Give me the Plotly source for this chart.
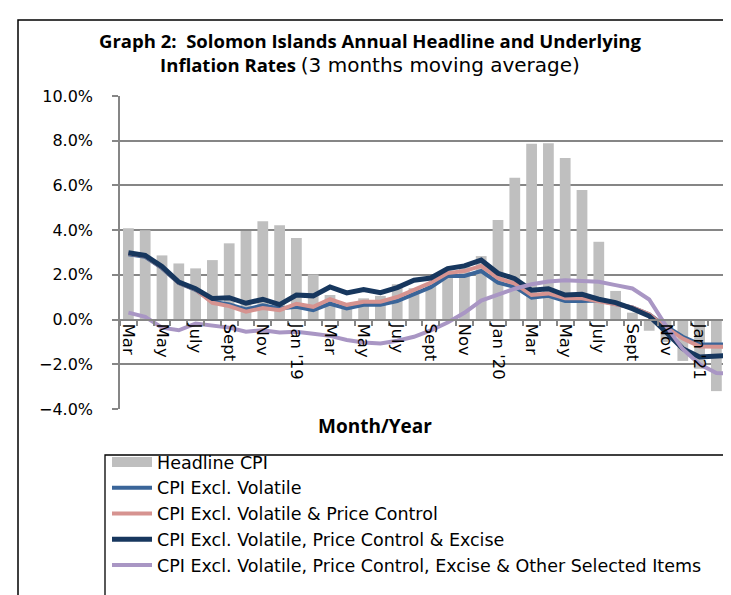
import plotly.graph_objects as go

months = ["Mar 18","Apr 18","May 18","Jun 18","Jul 18","Aug 18","Sep 18","Oct 18","Nov 18","Dec 18",
          "Jan 19","Feb 19","Mar 19","Apr 19","May 19","Jun 19","Jul 19","Aug 19","Sep 19","Oct 19",
          "Nov 19","Dec 19","Jan 20","Feb 20","Mar 20","Apr 20","May 20","Jun 20","Jul 20","Aug 20",
          "Sep 20","Oct 20","Nov 20","Dec 20","Jan 21","Feb 21","Mar 21"]
tick_labels = ["Mar","May","July","Sept","Nov","Jan '19","Mar","May","July","Sept","Nov","Jan '20",
               "Mar","May","July","Sept","Nov","Jan '21","Mar"]

headline = [4.08,4.0,2.87,2.51,2.29,2.66,3.41,3.96,4.4,4.22,
            3.65,2.02,1.1,0.55,0.95,1.06,1.58,1.4,1.55,1.95,
            2.4,2.84,4.45,6.34,7.86,7.89,7.23,5.79,3.48,1.28,
            0.31,-0.5,-1.0,-1.85,-2.2,-3.2,-1.6]
excl_volatile = [2.92,2.81,2.3,1.63,1.33,0.8,0.68,0.45,0.64,0.5,
                 0.57,0.42,0.71,0.5,0.66,0.66,0.83,1.13,1.45,1.95,
                 1.95,2.17,1.65,1.46,0.98,1.06,0.83,0.83,0.85,0.7,
                 0.54,0.24,-0.3,-0.77,-1.1,-1.12,-1.1]
excl_vol_pc = [2.95,2.84,2.33,1.65,1.35,0.75,0.6,0.35,0.52,0.42,
               0.71,0.57,0.91,0.66,0.8,0.8,1.01,1.35,1.65,2.08,
               2.17,2.4,1.85,1.61,1.1,1.17,0.95,0.95,0.83,0.68,
               0.54,0.24,-0.36,-0.85,-1.2,-1.22,-1.22]
excl_vol_pc_excise = [2.99,2.87,2.37,1.68,1.38,0.94,0.98,0.73,0.91,0.67,
                      1.1,1.06,1.46,1.19,1.34,1.2,1.43,1.76,1.86,2.28,
                      2.4,2.66,2.07,1.83,1.31,1.38,1.1,1.13,0.91,0.76,
                      0.49,0.16,-0.55,-1.3,-1.67,-1.62,-1.59]
excl_all = [0.31,0.12,-0.36,-0.48,-0.18,-0.28,-0.36,-0.54,-0.48,-0.58,
            -0.54,-0.63,-0.73,-0.91,-1.03,-1.07,-0.95,-0.77,-0.48,-0.13,
            0.3,0.85,1.1,1.38,1.58,1.7,1.76,1.73,1.69,1.54,
            1.39,0.9,-0.28,-1.32,-2.0,-2.39,-2.41]

x = list(range(len(months)))
FONT = "DejaVu Sans"
TFONT = "Open Sans"
BAR_COLOR = "#BFBFBF"

fig = go.Figure()
fig.add_trace(go.Bar(x=x, y=headline, name="Headline CPI", marker_color=BAR_COLOR,
                     marker_line_width=0, hovertext=months, showlegend=False,
                     legendgroup="headline"))
# legend key for the bars (wide grey block, as in the original)
fig.add_trace(go.Scatter(x=[None], y=[None], name="Headline CPI", mode="lines",
                         line=dict(color=BAR_COLOR, width=14), legendgroup="headline",
                         hoverinfo="skip"))
fig.add_trace(go.Scatter(x=x, y=excl_volatile, name="CPI Excl. Volatile", mode="lines",
                         line=dict(color="#3A6599", width=4)))
fig.add_trace(go.Scatter(x=x, y=excl_vol_pc, name="CPI Excl. Volatile & Price Control", mode="lines",
                         line=dict(color="#D69390", width=4)))
fig.add_trace(go.Scatter(x=x, y=excl_vol_pc_excise, name="CPI Excl. Volatile, Price Control & Excise",
                         mode="lines", line=dict(color="#17375E", width=5)))
fig.add_trace(go.Scatter(x=x, y=excl_all,
                         name="CPI Excl. Volatile, Price Control, Excise & Other Selected Items",
                         mode="lines", line=dict(color="#A996C4", width=4)))

W, H = 731, 595
L, T, B = 112, 88, 401
pw = W - L
ph = B - T
def px_x(p): return (p - L) / pw
def px_y(p): return (B - p) / ph

title_text = ("<b>Graph 2:  Solomon Islands Annual Headline and Underlying</b><br>"
              "<b>Inflation Rates</b> "
              "<span style='font-family:DejaVu Sans;font-size:20px'>(3 months moving average)</span>")

fig.update_layout(
    width=W, height=H,
    margin=dict(l=L, r=0, t=T, b=H - B),
    paper_bgcolor="white", plot_bgcolor="white",
    font=dict(family=FONT, size=16, color="black"),
    bargap=0.36,
    showlegend=True,
    title=dict(text=title_text,
               x=362 / W, xanchor="center", xref="container",
               y=1 - 40 / H, yanchor="top", yref="container",
               font=dict(family=TFONT, size=18.5, color="black")),
    xaxis=dict(range=[-0.5, -0.5 + pw / 16.8], tickmode="array",
               tickvals=list(range(0, 37, 2)), ticktext=tick_labels, tickangle=90,
               ticks="", showgrid=False, zeroline=False, showline=True,
               linecolor="#868686", linewidth=1.5,
               anchor="free", position=4 / 14,
               tickfont=dict(size=16.5, family=FONT),
               minor=dict(tickmode="linear", tick0=-0.5, dtick=1, ticks="outside",
                          ticklen=6, tickcolor="#868686", tickwidth=1.5, showgrid=False)),
    yaxis=dict(range=[-4, 10], dtick=2, tick0=0, tickformat=".1f", ticksuffix="%",
               showgrid=True, gridcolor="#868686", gridwidth=1.5, zeroline=False,
               showline=True, linecolor="#868686", linewidth=1.5,
               ticks="outside", ticklen=6, tickcolor="#868686", tickwidth=1.5,
               ticklabelstandoff=16, tickfont=dict(size=16, family=FONT)),
    legend=dict(x=px_x(99), y=px_y(436), xanchor="left", yanchor="top",
                bgcolor="rgba(0,0,0,0)", borderwidth=0, traceorder="normal",
                font=dict(size=17.5, family=FONT), itemwidth=40, tracegroupgap=0),
)

fig.add_annotation(text="<b>Month/Year</b>", x=px_x(367), y=px_y(418), xref="paper", yref="paper",
                   showarrow=False, font=dict(size=19, family=TFONT), xanchor="center", yanchor="middle")

# outer chart frame
fig.add_shape(type="rect", xref="paper", yref="paper", x0=px_x(10), x1=px_x(760), y0=px_y(640), y1=px_y(12),
              line=dict(color="black", width=1.5), layer="below")
# legend frame
fig.add_shape(type="rect", xref="paper", yref="paper", x0=px_x(97), x1=px_x(760), y0=px_y(591), y1=px_y(447),
              line=dict(color="black", width=1.3), layer="below")

fig.write_html("out.html")
